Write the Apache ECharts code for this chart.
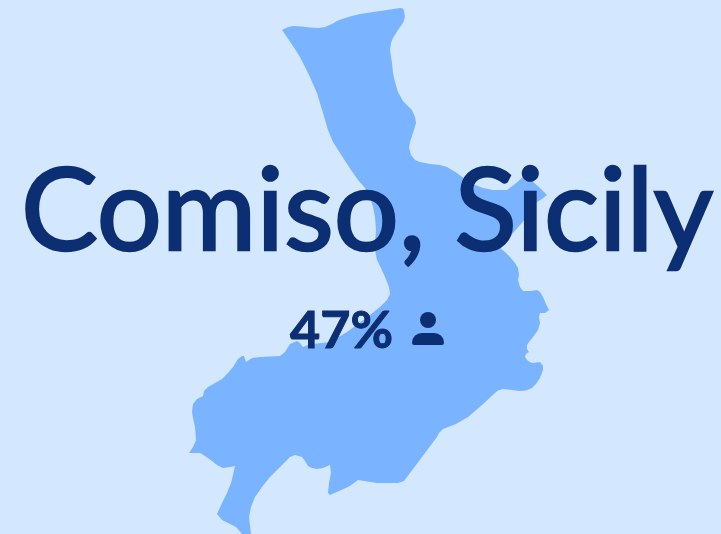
<!DOCTYPE html>
<html>
<head>
<meta charset="utf-8">
<style>
  html, body { margin: 0; padding: 0; background: #d3e7ff; }
  #chart { width: 721px; height: 534px; }
</style>
<script src="https://cdn.jsdelivr.net/npm/echarts@6/dist/echarts.min.js"></script>
</head>
<body>
<div id="chart"></div>
<script>
var placeName = 'Comiso, Sicily';
var sharePercent = 47;

// municipality outline [x, y going down]
var outline = [
  [282,30],[287,27.5],[293,26],[302,26.5],[310,27.5],[318,28],[325,27],[332,24],[337,21],[342,19],[350,16.5],[360,14],[380,11],[400,8],[403,8.5],[404,11],[405,17],[403,23],[398,30],[393,38],[391,43],[390,50],[392,63],[393,73],[395,82],[398,92],[403,101],[412,110],[415,117],[416,123],[413,133],[410,142],[409,148],[411,155],[415,160],[420,162],[430,164],[440,165],
  [447,167],[452,170],[457,173],[470,183],[483,188],[493,190],[507,190],[515,184],[523,177],[533,182],[540,188],[547,195],[542,199],[537,202],[527,217],[513,233],[500,248],[505,252],[510,257],[515,263],[518,268],[519,275],[518,280],[520,287],[523,291],[530,291],[537,290],[540,292],[543,297],[546,304],[549,310],[545,313],[540,313],[539,317],[540,323],[538,330],[533,337],[529,342],[527,345],[527,349],[529,352],[526,354],[525,357],[528,361],[532,363],[537,362.5],[540,362],[543,366],[543,370],[540,378],[536,384],[532,388],[526,390.5],[520,391],[512,390],[503,389],[498,390.5],[495,393],[482,405],[468,417],[456,424],[443,429],[439,433],[437,437],[422,457],[407,477],[404,481],
  [398,483],[387,483],[377,483],[358,480],[354,483],[348,487],[330,495],[328,493],[329,483],[331,473],[330,465],[323,468],[317,469],[312,468],[308,466],[305,461],[302,457],[295,455],[290,457],[280,467],[270,477],[262,487],[255,497],[251,507],[249,517],[251,534],[242,534],[236,527],[222,520],[217,514],[222,503],[227,493],[231,483],[233,475],[235,466],[230,467],[223,468],[217,465],[212,461],[205,456],[200,453],[195,453],[189,453],[193,447],[196,440],[195,427],[193,418],[192,412],[193,404],[197,399],[203,396],[204,391],[208,387],[222,379],[228,373],[233,367],[238,359],[242,356],[244,356],[246,362],[252,358],[260,357],[280,356],[285,352],[290,344],[297,341],[300,343],[303,347],[308,345],
  [313,344],[330,342],[347,332],[358,324],[370,315],[380,307],[387,300],[390,294],[389,287],[385,277],[381,268],[377,260],[375,250],[375,243],[376,230],[375,217],[373,207],[370,197],[365,188],[358,180],[349,167],[340,153],[333,142],[328,130],[323,113],[317,93],[309,75],[300,57],[291,43]
];

var ring = outline.map(function (p) { return [p[0], 534 - p[1]]; });
ring.push(ring[0]);

echarts.registerMap('comiso', {
  type: 'FeatureCollection',
  features: [{
    type: 'Feature',
    properties: { name: placeName },
    geometry: { type: 'Polygon', coordinates: [ring] }
  }]
});

var myChart = echarts.init(document.getElementById('chart'));
myChart.setOption({
  backgroundColor: '#d3e7ff',
  animation: false,
  series: [{
    type: 'map',
    map: 'comiso',
    aspectScale: 1,
    left: 189,
    top: 8,
    width: 360,
    height: 526,
    silent: true,
    label: { show: false },
    itemStyle: { areaColor: '#7ab3ff', borderWidth: 0 },
    data: [{ name: placeName, value: sharePercent }]
  }],
  graphic: [
    {
      type: 'text', z: 10, x: 367, y: 213,
      style: {
        text: placeName,
        font: '400 115px Lato, sans-serif',
        fill: '#0c2e72',
        stroke: '#0c2e72',
        lineWidth: 2.5,
        align: 'center',
        verticalAlign: 'middle'
      }
    },
    {
      type: 'text', z: 10, x: 393, y: 331,
      style: {
        text: sharePercent + '%',
        font: '700 52px Lato, sans-serif',
        fill: '#0c2e72',
        stroke: '#0c2e72',
        lineWidth: 1,
        align: 'right',
        verticalAlign: 'middle'
      }
    },
    { type: 'circle', z: 10, shape: { cx: 428, cy: 320, r: 8 }, style: { fill: '#0c2e72' } },
    { type: 'rect', z: 10, shape: { x: 412, y: 333, width: 32, height: 12, r: [13, 13, 3, 3] }, style: { fill: '#0c2e72' } }
  ]
});
</script>
</body>
</html>
